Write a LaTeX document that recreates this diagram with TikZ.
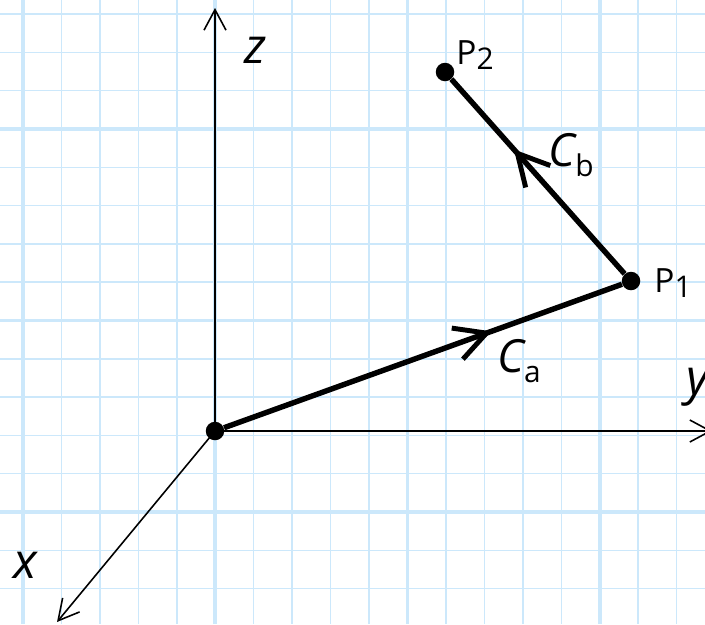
\documentclass[tikz,border=0pt]{standalone}
\usepackage{fontspec}
\setmainfont{Open Sans}
\usetikzlibrary{arrows.meta,decorations.markings}
\definecolor{gridblue}{RGB}{204,232,251}
\newcommand\psub[1]{\raisebox{-3pt}{\fontsize{17}{19}\selectfont #1}}
\newcommand\csub[1]{\raisebox{-6pt}{\fontsize{17}{19}\selectfont\upshape #1}}

\begin{document}
\begin{tikzpicture}[
  x=0.2mm,y=-0.2mm,
  minor/.style={draw=gridblue,line width=0.9pt},
  major/.style={draw=gridblue,line width=2pt},
  axis/.style={line width=0.9pt,-{Straight Barb[length=4.1mm,width=4.4mm]}},
  curve/.style={line width=3.1pt},
  midarrow/.style={postaction={decorate},decoration={markings,
    mark=at position #1 with {\arrow[line width=2.8pt]{Straight Barb[length=6.2mm,width=6.6mm]}}}},
  dot/.style={circle,fill=black,inner sep=0pt,minimum size=3.7mm},
  var/.style={font=\fontsize{28}{32}\selectfont\itshape,inner sep=0pt},
  cname/.style={font=\fontsize{26}{30}\selectfont\itshape,inner sep=0pt},
  pname/.style={font=\fontsize{19}{22}\selectfont,inner sep=0pt}
]
\useasboundingbox (0,0) rectangle (705,624);
\clip (0,0) rectangle (705,624);
% ---------------- grid ----------------
\foreach \i in {-1,...,18} \draw[minor] ({23+38.45*\i},0) -- ({23+38.45*\i},624);
\foreach \i in {-4,...,13} \draw[minor] (0,{129+38.3*\i}) -- (705,{129+38.3*\i});
\foreach \i in {0,...,3} \draw[major] ({23+192.25*\i},0) -- ({23+192.25*\i},624);
\foreach \i in {0,...,2} \draw[major] (0,{129+191.5*\i}) -- (705,{129+191.5*\i});

% ---------------- axes ----------------
\node[dot] (O) at (215,431) {};
\coordinate (zend) at (215,8);
\coordinate (yend) at (712,431);
\coordinate (xend) at (57,622);
\draw[axis] (O.center) -- (zend);
\draw[axis] (O.center) -- (yend);
\draw[axis] (O.center) -- (xend);
\node[var] (zl) at (255,50) {z};
\node[var] (yl) at (698,387) {y};
\node[var] (xl) at (25,565) {x};

% ---------------- path ----------------
\node[dot] (P1) at (631,281) {};
\node[dot] (P2) at (445,72) {};
\draw[curve,midarrow=0.672] (O) -- (P1);
\draw[curve,midarrow=0.639] (P1) -- (P2);
\node[pname] (p1l) at (673,283) {P\psub{1}};
\node[pname] (p2l) at (475,55) {P\psub{2}};
\node[cname] (cal) at (519,361) {C\csub{a}};
\node[cname] (cbl) at (571,155) {C\csub{b}};
\end{tikzpicture}
\end{document}
